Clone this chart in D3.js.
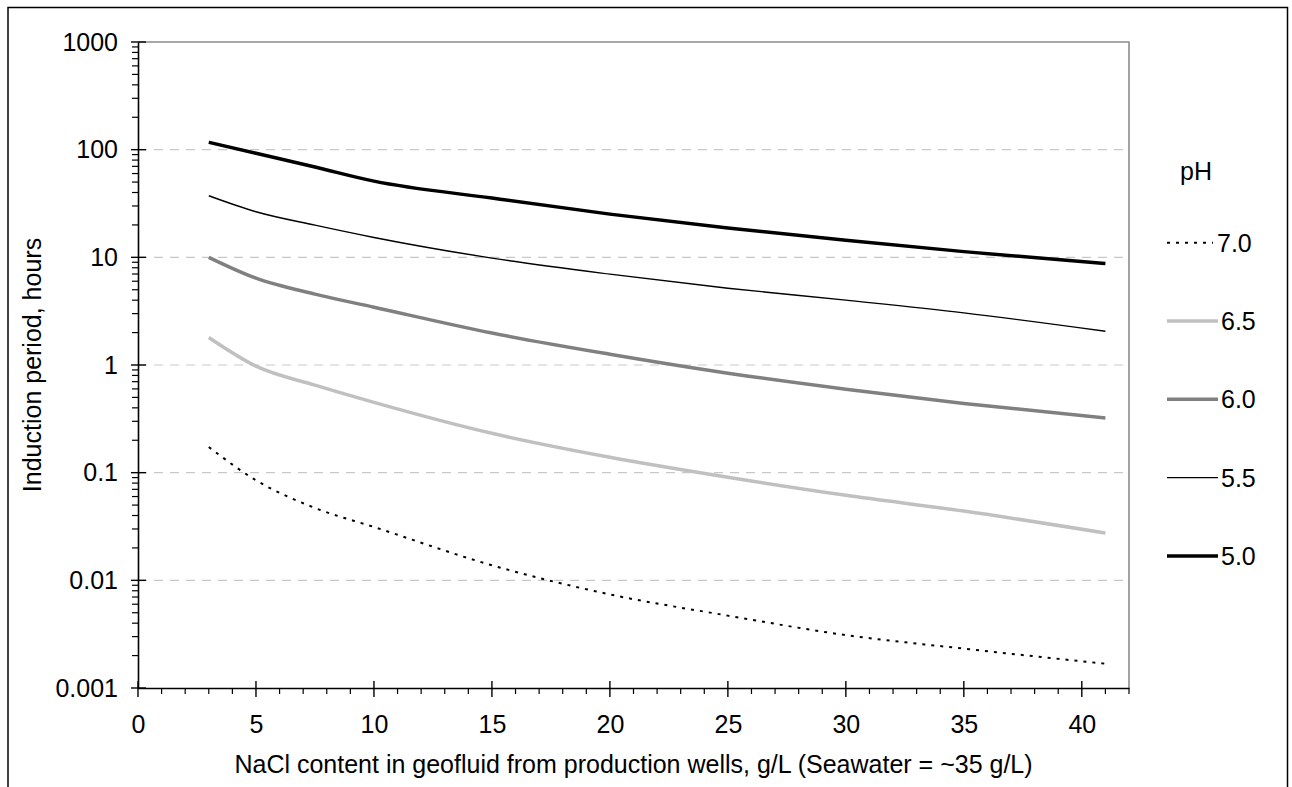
<!DOCTYPE html>
<html>
<head>
<meta charset="utf-8">
<script src="https://cdn.jsdelivr.net/npm/d3@7"></script>
<style>
  body { margin: 0; background: #fff; }
  text { font-family: Arial, "Liberation Sans", sans-serif; fill: #000; }
</style>
</head>
<body>
<div id="chart"></div>
<script>
// NaCl content, g/L
const nacl = [3, 5, 7.5, 10, 15, 20, 25, 30, 35, 41];

// induction period (hours) per pH
const ph50 = [117, 92.5, 69, 51, 35.5, 25.2, 18.7, 14.4, 11.3, 8.77];
const ph55 = [37.3, 26.5, 19.9, 15.3, 9.84, 6.98, 5.17, 4.0, 3.05, 2.06];
const ph60 = [10.0, 6.4, 4.55, 3.44, 1.98, 1.26, 0.84, 0.596, 0.44, 0.322];
const ph65 = [1.80, 0.975, 0.65, 0.45, 0.232, 0.139, 0.0906, 0.0616, 0.044, 0.0275];
const ph70 = [0.173, 0.085, 0.047, 0.0313, 0.0138, 0.0074, 0.0047, 0.0031, 0.00232, 0.00168];

const seriesNames = ["7.0", "6.5", "6.0", "5.5", "5.0"];
const seriesValues = [ph70, ph65, ph60, ph55, ph50];

const yTicks = [0.001, 0.01, 0.1, 1, 10, 100, 1000];
const xTicks = [0, 5, 10, 15, 20, 25, 30, 35, 40];

const styles = {
  "7.0": {color: "#000", width: 2, dash: "3,6"},
  "6.5": {color: "#c0c0c0", width: 3.5, dash: null},
  "6.0": {color: "#808080", width: 3.5, dash: null},
  "5.5": {color: "#000", width: 1.4, dash: null},
  "5.0": {color: "#000", width: 3.5, dash: null}
};

const fs = 25;
const W = 1292, H = 787;
const margin = {top: 42, right: 163, bottom: 99, left: 138};
const width = W - margin.left - margin.right;
const height = H - margin.top - margin.bottom;

const svg = d3.select("#chart").append("svg")
    .attr("width", W)
    .attr("height", H);

// outer frame
svg.append("rect")
    .attr("x", 8).attr("y", 7.5)
    .attr("width", 1279.5).attr("height", 800)
    .attr("fill", "none").attr("stroke", "#000").attr("stroke-width", 1.5);

const g = svg.append("g").attr("transform", `translate(${margin.left},${margin.top})`);

const x = d3.scaleLinear().domain([0, 42]).range([0, width]);
const y = d3.scaleLog().domain([0.001, 1000]).range([height, 0]);

// gridlines
g.selectAll(".grid")
    .data(yTicks.filter(d => d > 0.001 && d < 1000))
    .enter().append("line")
    .attr("class", "grid")
    .attr("x1", 0).attr("x2", width)
    .attr("y1", d => y(d)).attr("y2", d => y(d))
    .attr("stroke", "#c8c8c8").attr("stroke-width", 1.2)
    .attr("stroke-dasharray", "9,7");

// top and right border
g.append("path")
    .attr("d", `M0,0H${width}V${height}`)
    .attr("fill", "none").attr("stroke", "#8c8c8c").attr("stroke-width", 1.6);

// minor ticks y
let yMinor = [];
for (let e = -3; e < 3; e++) {
    for (let m = 2; m <= 9; m++) yMinor.push(m * Math.pow(10, e));
}
g.selectAll(".yminor").data(yMinor).enter().append("line")
    .attr("x1", -6).attr("x2", 0)
    .attr("y1", d => y(d)).attr("y2", d => y(d))
    .attr("stroke", "#000").attr("stroke-width", 1.2);
g.selectAll(".ymajor").data(yTicks).enter().append("line")
    .attr("x1", -7).attr("x2", 8)
    .attr("y1", d => y(d)).attr("y2", d => y(d))
    .attr("stroke", "#000").attr("stroke-width", 1.4);

// minor ticks x
const xMinor = d3.range(0, 43).filter(d => d % 5 !== 0);
g.selectAll(".xminor").data(xMinor).enter().append("line")
    .attr("x1", d => x(d)).attr("x2", d => x(d))
    .attr("y1", height).attr("y2", height + 6)
    .attr("stroke", "#000").attr("stroke-width", 1.2);
g.selectAll(".xmajor").data(xTicks).enter().append("line")
    .attr("x1", d => x(d)).attr("x2", d => x(d))
    .attr("y1", height - 7).attr("y2", height + 9)
    .attr("stroke", "#000").attr("stroke-width", 1.4);

// axes (labels)
const yAxis = g.append("g")
    .call(d3.axisLeft(y).tickValues(yTicks).tickSize(0).tickPadding(20)
        .tickFormat(d => String(d)));
yAxis.select(".domain").attr("stroke", "#000").attr("stroke-width", 1.6);
yAxis.selectAll("text").attr("font-size", fs).attr("font-family", "Arial, 'Liberation Sans', sans-serif").attr("fill", "#000");

const xAxis = g.append("g")
    .attr("transform", `translate(0,${height})`)
    .call(d3.axisBottom(x).tickValues(xTicks).tickSize(0).tickPadding(27));
xAxis.select(".domain").attr("stroke", "#000").attr("stroke-width", 1.6);
xAxis.selectAll("text").attr("font-size", fs).attr("font-family", "Arial, 'Liberation Sans', sans-serif").attr("fill", "#000");

// lines
const line = d3.line()
    .x(d => x(d[0]))
    .y(d => y(d[1]))
    .curve(d3.curveMonotoneX);

seriesNames.forEach((name, i) => {
    const st = styles[name];
    const pts = nacl.map((n, j) => [n, seriesValues[i][j]]);
    g.append("path")
        .datum(pts)
        .attr("d", line)
        .attr("fill", "none")
        .attr("stroke", st.color)
        .attr("stroke-width", st.width)
        .attr("stroke-dasharray", st.dash);
});

// axis titles
svg.append("text")
    .attr("x", margin.left + width / 2)
    .attr("y", 773)
    .attr("text-anchor", "middle")
    .attr("font-size", fs)
    .text("NaCl content in geofluid from production wells, g/L (Seawater = ~35 g/L)");

svg.append("text")
    .attr("transform", `translate(41,${margin.top + height / 2}) rotate(-90)`)
    .attr("text-anchor", "middle")
    .attr("font-size", fs)
    .text("Induction period, hours");

// legend
svg.append("text")
    .attr("x", 1180).attr("y", 180)
    .attr("font-size", fs)
    .text("pH");

const legend = svg.selectAll(".legend")
    .data(seriesNames)
    .enter().append("g")
    .attr("transform", (d, i) => `translate(1167,${242.7 + i * 78.3})`);

legend.append("line")
    .attr("x1", 0).attr("x2", d => d === "7.0" ? 46 : 51)
    .attr("y1", 0).attr("y2", 0)
    .attr("stroke", d => styles[d].color)
    .attr("stroke-width", d => styles[d].width)
    .attr("stroke-dasharray", d => styles[d].dash);

legend.append("text")
    .attr("x", d => d === "7.0" ? 50 : 54)
    .attr("y", 9)
    .attr("font-size", fs)
    .text(d => d);
</script>
</body>
</html>
